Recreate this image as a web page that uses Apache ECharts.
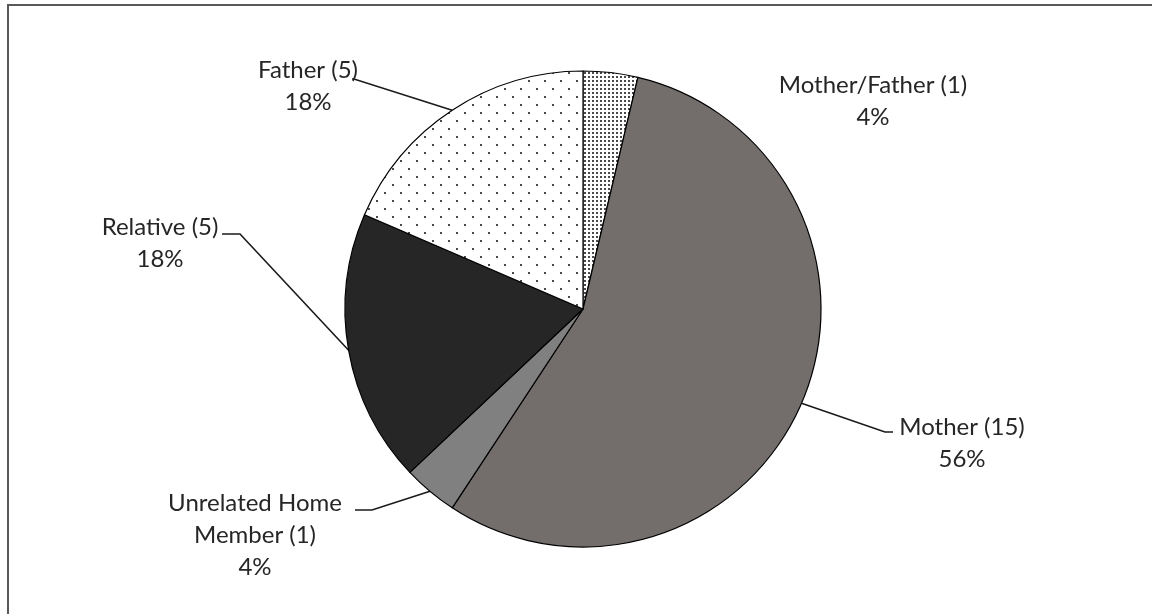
<!DOCTYPE html>
<html lang="en">
<head>
<meta charset="UTF-8">
<title>Pie</title>
<script src="https://cdn.jsdelivr.net/npm/echarts@6/dist/echarts.min.js"></script>
<style>
  html, body { margin: 0; padding: 0; background: #fff; }
  #main { width: 1152px; height: 614px; }
</style>
</head>
<body>
<div id="main"></div>
<script>
// data
var categories = ["Mother/Father", "Mother", "Unrelated Home Member", "Relative", "Father"];
var counts = [1, 15, 1, 5, 5];

// small dotted fills, like the printed original
function dotPattern(size, dot, bg, fg, staggered) {
  var c = document.createElement("canvas");
  c.width = size; c.height = size;
  var g = c.getContext("2d");
  g.fillStyle = bg; g.fillRect(0, 0, size, size);
  g.fillStyle = fg;
  g.fillRect(0, 0, dot, dot);
  if (staggered) g.fillRect(size / 2, size / 2, dot, dot);
  return { image: c, repeat: "repeat" };
}

var fills = [
  dotPattern(4, 2, "#ffffff", "#4a4a4a", false),
  "#736e6c",
  "#808080",
  "#262626",
  dotPattern(16, 2, "#ffffff", "#4a4a4a", true)
];

// where each label sits (center x, top y) and the leader line bend/end
var labelPos = [
  { x: 873, y: 69 },
  { x: 962, y: 411, bend: [885, 432], end: [893, 432] },
  { x: 255, y: 487, bend: [372, 510], end: [355, 510] },
  { x: 160, y: 211, bend: [240, 234], end: [222, 234] },
  { x: 308, y: 54, bend: [354, 79], end: [352, 79] }
];

var myChart = echarts.init(document.getElementById("main"));
myChart.setOption({
  animation: false,
  textStyle: { fontFamily: "Lato" },
  graphic: [{
    type: "rect",
    shape: { x: 8, y: 5, width: 1160, height: 620 },
    style: { fill: "none", stroke: "#595959", lineWidth: 2 }
  }],
  series: [{
    type: "pie",
    center: [583, 309],
    radius: 238,
    startAngle: 90,
    clockwise: true,
    percentPrecision: 0,
    data: categories.map(function (name, i) {
      return {
        name: name,
        value: counts[i],
        itemStyle: { color: fills[i] },
        labelLine: { show: i !== 0 }
      };
    }),
    itemStyle: { borderColor: "#000", borderWidth: 1.2 },
    label: {
      show: true,
      position: "outside",
      color: "#262626",
      fontSize: 24,
      lineHeight: 32,
      align: "center",
      formatter: function (p) {
        var n = p.name.replace(" Member", "\nMember");
        return n + " (" + p.value + ")\n" + p.percent + "%";
      }
    },
    labelLine: {
      show: true,
      length: 20,
      length2: 10,
      lineStyle: { color: "#1a1a1a", width: 1.6 }
    },
    labelLayout: function (params) {
      var pos = labelPos[params.dataIndex];
      var out = { x: pos.x, y: pos.y, align: "center", verticalAlign: "top" };
      if (pos.bend && params.labelLinePoints) {
        out.labelLinePoints = [params.labelLinePoints[0], pos.bend, pos.end];
      }
      return out;
    }
  }]
});
</script>
</body>
</html>
